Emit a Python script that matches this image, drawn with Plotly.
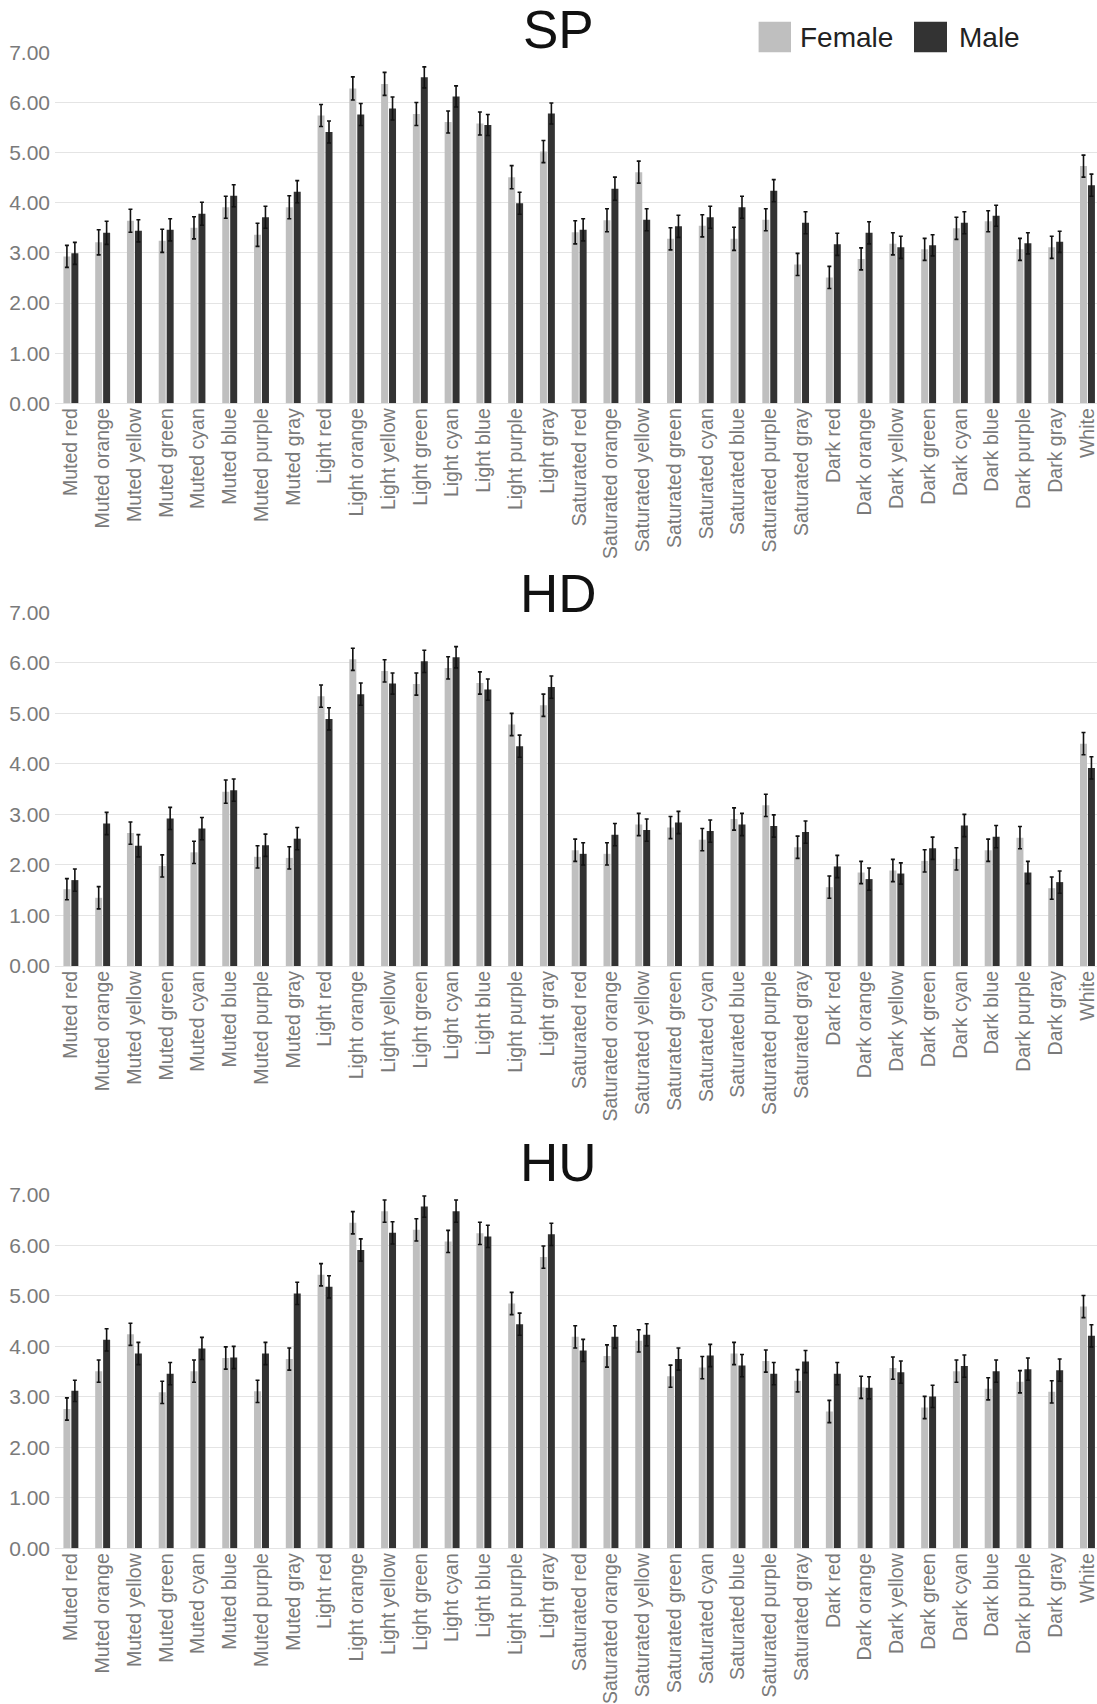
import plotly.graph_objects as go

categories = ["Muted red", "Muted orange", "Muted yellow", "Muted green", "Muted cyan",
              "Muted blue", "Muted purple", "Muted gray",
              "Light red", "Light orange", "Light yellow", "Light green", "Light cyan",
              "Light blue", "Light purple", "Light gray",
              "Saturated red", "Saturated orange", "Saturated yellow", "Saturated green",
              "Saturated cyan", "Saturated blue", "Saturated purple", "Saturated gray",
              "Dark red", "Dark orange", "Dark yellow", "Dark green", "Dark cyan",
              "Dark blue", "Dark purple", "Dark gray", "White"]

sp_female = [2.93, 3.21, 3.64, 3.24, 3.50, 3.91, 3.36, 3.91,
             5.74, 6.28, 6.37, 5.77, 5.61, 5.58, 4.51, 5.02,
             3.41, 3.65, 4.61, 3.28, 3.54, 3.28, 3.66, 2.77,
             2.51, 2.88, 3.18, 3.07, 3.49, 3.63, 3.07, 3.11, 4.73]
sp_male = [2.99, 3.40, 3.44, 3.46, 3.78, 4.14, 3.71, 4.22,
           5.41, 5.76, 5.88, 6.50, 6.12, 5.55, 3.99, 5.78,
           3.46, 4.28, 3.66, 3.53, 3.71, 3.91, 4.24, 3.60,
           3.17, 3.40, 3.11, 3.15, 3.60, 3.74, 3.19, 3.22, 4.35]
sp_female_err = [0.22, 0.25, 0.23, 0.23, 0.22, 0.22, 0.23, 0.23,
                 0.22, 0.23, 0.23, 0.23, 0.22, 0.23, 0.23, 0.22,
                 0.23, 0.23, 0.22, 0.22, 0.22, 0.23, 0.22, 0.22,
                 0.22, 0.22, 0.22, 0.22, 0.22, 0.21, 0.22, 0.22, 0.22]
sp_male_err = [0.22, 0.23, 0.22, 0.22, 0.23, 0.22, 0.22, 0.22,
               0.22, 0.22, 0.23, 0.21, 0.21, 0.21, 0.22, 0.21,
               0.22, 0.23, 0.22, 0.22, 0.22, 0.22, 0.22, 0.22,
               0.22, 0.22, 0.22, 0.21, 0.22, 0.21, 0.21, 0.21, 0.22]

hd_female = [1.52, 1.35, 2.63, 1.98, 2.25, 3.45, 2.16, 2.14,
             5.34, 6.07, 5.84, 5.58, 5.90, 5.60, 4.78, 5.16,
             2.29, 2.22, 2.80, 2.74, 2.50, 2.91, 3.18, 2.35,
             1.56, 1.85, 1.89, 2.08, 2.12, 2.29, 2.54, 1.54, 4.40]
hd_male = [1.70, 2.82, 2.38, 2.92, 2.72, 3.48, 2.39, 2.52,
           4.89, 5.38, 5.59, 6.03, 6.11, 5.47, 4.35, 5.52,
           2.22, 2.60, 2.69, 2.84, 2.67, 2.80, 2.77, 2.65,
           1.97, 1.72, 1.83, 2.33, 2.78, 2.56, 1.85, 1.66, 3.92]
hd_female_err = [0.21, 0.22, 0.22, 0.22, 0.22, 0.23, 0.22, 0.22,
                 0.22, 0.22, 0.22, 0.22, 0.22, 0.22, 0.22, 0.22,
                 0.22, 0.22, 0.22, 0.22, 0.22, 0.22, 0.22, 0.22,
                 0.22, 0.22, 0.22, 0.22, 0.22, 0.22, 0.22, 0.22, 0.22]
hd_male_err = [0.22, 0.22, 0.22, 0.22, 0.22, 0.22, 0.22, 0.22,
               0.22, 0.22, 0.21, 0.22, 0.21, 0.21, 0.22, 0.22,
               0.22, 0.22, 0.22, 0.22, 0.22, 0.22, 0.22, 0.22,
               0.22, 0.22, 0.21, 0.22, 0.22, 0.22, 0.22, 0.22, 0.22]

hu_female = [2.76, 3.51, 4.24, 3.09, 3.51, 3.77, 3.11, 3.75,
             5.42, 6.45, 6.68, 6.31, 6.08, 6.24, 4.85, 5.77,
             4.19, 3.81, 4.11, 3.41, 3.58, 3.86, 3.71, 3.32,
             2.71, 3.19, 3.57, 2.79, 3.51, 3.16, 3.30, 3.10, 4.79]
hu_male = [3.12, 4.13, 3.86, 3.46, 3.96, 3.78, 3.86, 5.05,
           5.18, 5.91, 6.25, 6.77, 6.68, 6.18, 4.44, 6.22,
           3.92, 4.19, 4.23, 3.75, 3.82, 3.62, 3.46, 3.70,
           3.46, 3.18, 3.49, 3.01, 3.61, 3.51, 3.55, 3.53, 4.21]
hu_female_err = [0.22, 0.22, 0.22, 0.22, 0.22, 0.22, 0.22, 0.22,
                 0.22, 0.22, 0.22, 0.22, 0.22, 0.22, 0.22, 0.22,
                 0.22, 0.22, 0.22, 0.22, 0.22, 0.22, 0.22, 0.22,
                 0.22, 0.22, 0.22, 0.22, 0.22, 0.22, 0.22, 0.22, 0.22]
hu_male_err = [0.21, 0.22, 0.22, 0.22, 0.22, 0.22, 0.22, 0.22,
               0.22, 0.22, 0.22, 0.21, 0.22, 0.22, 0.22, 0.22,
               0.22, 0.22, 0.22, 0.22, 0.22, 0.22, 0.22, 0.22,
               0.22, 0.22, 0.22, 0.22, 0.22, 0.22, 0.22, 0.22, 0.22]

panels = [
    ("SP", sp_female, sp_male, sp_female_err, sp_male_err),
    ("HD", hd_female, hd_male, hd_female_err, hd_male_err),
    ("HU", hu_female, hu_male, hu_female_err, hu_male_err),
]

W, H = 1097, 1704
FEMALE_C = "#bfbfbf"
MALE_C = "#333333"
FONT = "Liberation Sans, Arial, sans-serif"
LABEL_C = "#7a7a7a"
GRID_C = "#e4e4e4"

# pixel positions (top of plot at y=7, bottom at y=0) for each panel
pix = [(52.3, 403.3), (612.3, 966.0), (1195.0, 1548.3)]
title_y = [29.5, 593.0, 1162.5]

fig = go.Figure()
layout = dict(
    width=W, height=H,
    margin=dict(l=0, r=0, t=0, b=0, autoexpand=False),
    paper_bgcolor="white", plot_bgcolor="white",
    barmode="group", bargap=0.5, bargroupgap=0.12,
    showlegend=False,
    font=dict(family=FONT),
    annotations=[], shapes=[],
)

for i, (name, fv, mv, fe, me) in enumerate(panels):
    sfx = "" if i == 0 else str(i + 1)
    xa, ya = "x" + sfx, "y" + sfx
    fig.add_trace(go.Bar(x=categories, y=fv, name="Female", marker_color=FEMALE_C,
                         marker_line_width=0,
                         error_y=dict(type="data", array=fe, color="#111111",
                                      thickness=1.6, width=2),
                         xaxis=xa, yaxis=ya))
    fig.add_trace(go.Bar(x=categories, y=mv, name="Male", marker_color=MALE_C,
                         marker_line_width=0,
                         error_y=dict(type="data", array=me, color="#111111",
                                      thickness=1.6, width=2),
                         xaxis=xa, yaxis=ya))
    top, bot = pix[i]
    layout["xaxis" + sfx] = dict(
        domain=[55 / W, 1.0], anchor=ya, range=[-0.5, 32.3], automargin=False,
        tickangle=-90, tickfont=dict(size=19.5, color=LABEL_C, family=FONT),
        showgrid=False, showline=False, ticks="", zeroline=False,
    )
    layout["yaxis" + sfx] = dict(
        domain=[1 - bot / H, 1 - top / H], anchor=xa, range=[0, 7], dtick=1,
        automargin=False, ticklabelstandoff=4,
        tickformat=".2f", tickfont=dict(size=21, color=LABEL_C, family=FONT),
        showgrid=True, gridcolor=GRID_C, gridwidth=1,
        zeroline=True, zerolinecolor=GRID_C, zerolinewidth=1,
        showline=False, ticks="",
    )
    layout["annotations"].append(dict(
        text=name, x=558.5 / W, y=1 - title_y[i] / H, xref="paper", yref="paper",
        xanchor="center", yanchor="middle", showarrow=False,
        font=dict(size=53, color="#111111", family=FONT)))

# manual legend (large swatches as in the reference)
for (x0, x1, col, label, tx) in [(758.6, 791.0, FEMALE_C, "Female", 798.0),
                                 (914.0, 947.0, MALE_C, "Male", 957.0)]:
    layout["shapes"].append(dict(type="rect", xref="paper", yref="paper",
                                 x0=x0 / W, x1=x1 / W, y0=1 - 52.3 / H, y1=1 - 21.7 / H,
                                 fillcolor=col, line=dict(width=0)))
    layout["annotations"].append(dict(
        text=label, x=tx / W, y=1 - 37.5 / H, xref="paper", yref="paper",
        xanchor="left", yanchor="middle", showarrow=False,
        font=dict(size=28, color="#222222", family=FONT)))

fig.update_layout(**layout)

post = (
    "document.documentElement.style.margin='0px';"
    "document.documentElement.style.overflow='hidden';"
    "document.body.style.margin='0px';"
    "document.body.style.overflow='hidden';"
    "var d=document.getElementById('{plot_id}');"
    "d.style.position='absolute';d.style.left='0px';d.style.top='0px';"
)
fig.write_html("out.html", config={"displayModeBar": False}, post_script=post)
